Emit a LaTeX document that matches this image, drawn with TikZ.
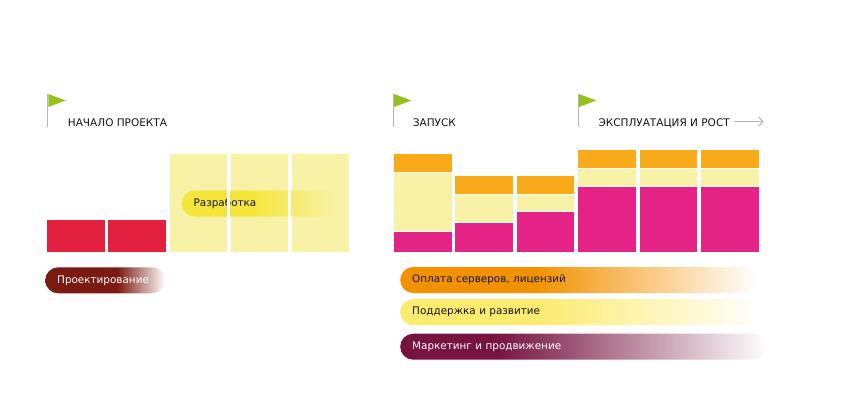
\documentclass[tikz,border=0pt]{standalone}
\usepackage{fontspec}
\setmainfont{DejaVu Sans}
\usetikzlibrary{positioning, arrows.meta}

\definecolor{inkdark}{HTML}{141414}
\definecolor{flaggreen}{HTML}{95C11F}
\definecolor{polegray}{HTML}{B4B4B4}
\definecolor{designred}{HTML}{E3203F}
\definecolor{devyellow}{HTML}{F8F2A6}
\definecolor{serverorange}{HTML}{F8AA1A}
\definecolor{promomagenta}{HTML}{E52286}
\definecolor{pillred}{HTML}{7B1A10}
\definecolor{pilldev}{HTML}{F5E53A}
\definecolor{pillorange}{HTML}{F39200}
\definecolor{pillsupport}{HTML}{FCEB6E}
\definecolor{pillpromo}{HTML}{76133F}

% horizontal fades for the legend pills: name, colour, end of solid part, end colour
\newcommand\pillfade[4]{\pgfdeclarehorizontalshading{#1}{100bp}{color(0bp)=(#2); color(25bp)=(#2); color(#3)=(#2); color(75bp)=(#4); color(100bp)=(#4)}}
\pillfade{fadered}{pillred}{55bp}{white}
\pillfade{fadedev}{pilldev}{47bp}{devyellow}
\pillfade{fadeorange}{pillorange}{44bp}{white}
\pillfade{fadesupport}{pillsupport}{44bp}{white}
\pillfade{fadepromo}{pillpromo}{38bp}{white}

\tikzset{
x=1pt, y=-1pt,
block/.style={inner sep=0pt, outer sep=0pt, minimum width=58.6pt, draw=white, line width=0.6pt}, % one month of work
designblock/.style={block, fill=designred, minimum height=33.4pt},
devblock/.style={block, fill=devyellow, minimum height=98.7pt},
serverblock/.style={block, fill=serverorange, minimum height=18.6pt},
supportblock/.style={block, fill=devyellow},
promoblock/.style={block, fill=promomagenta},
pill/.style={rounded corners=13pt, minimum height=26pt, inner xsep=12pt, inner ysep=0pt, anchor=west, align=left, text=inkdark, font=\fontsize{10.4}{12}\selectfont},
milestone/.style={anchor=base west, inner sep=0pt, text=inkdark, font=\fontsize{10.5}{12}\selectfont},
gap/.style={white, line width=2.6pt},
}

\begin{document}
\begin{tikzpicture}
    \useasboundingbox (0,0) rectangle (851,405);

    % flags
    \foreach \fx in {47.7,393.3,578.3}{
        \draw[polegray, line width=1.4pt] (\fx,94) -- (\fx,126.5);
        \fill[flaggreen] (\fx+0.7,94) -- (\fx+18,100.5) -- (\fx+0.7,107) -- cycle;
    }
    \node[milestone] (start) at (67.7,126.5) {НАЧАЛО ПРОЕКТА};
    \node[milestone] (launch) at (412.7,126.5) {ЗАПУСК};
    \node[milestone] (growth) at (598.3,126.5) {ЭКСПЛУАТАЦИЯ И РОСТ};
    \coordinate (growthfrom) at (733.5,121.6);
    \coordinate (growthto) at (763.5,121.6);
    \draw[polegray, line width=1pt, -{Straight Barb[length=4pt, width=9pt]}] (growthfrom) -- (growthto);

    % design and development
    \node[designblock, anchor=south west] (d1) at (46.6,252.4) {};
    \node[designblock, right=2.5pt of d1] (d2) {};
    \node[devblock, anchor=south west] (v1) at ([xshift=2.5pt]d2.south east) {};
    \node[devblock, right=2.5pt of v1] (v2) {};
    \node[devblock, right=2.5pt of v2] (v3) {};
    \node[pill, shading=fadedev, minimum width=155pt, text width=131pt] (dev) at (181.5,203.5) {Разработка};
    \draw[gap] ([xshift=1.25pt]v1.north east) -- ([xshift=1.25pt]v1.south east);
    \draw[gap] ([xshift=1.25pt]v2.north east) -- ([xshift=1.25pt]v2.south east);

    % after launch
    \foreach \i/\mh/\sh in {1/20.7/59.6, 2/30/28.4, 3/41/17.4, 4/66.4/18, 5/66.4/18, 6/66.4/18}{
        \node[promoblock, minimum height=\mh pt, anchor=south west] (p\i) at ({393.2+(\i-1)*61.45},252.4) {};
        \node[supportblock, minimum height=\sh pt, above=0pt of p\i] (s\i) {};
        \node[serverblock, above=0pt of s\i] (o\i) {};
    }

    % legend
    \node[pill, shading=fadered, text=white, minimum width=120pt, text width=96pt] (design) at (45,280.3) {Проектирование};
    \node[pill, shading=fadeorange, minimum width=357pt, text width=333pt] (servers) at (400,280) {Оплата серверов, лицензий};
    \node[pill, shading=fadesupport, minimum width=360pt, text width=336pt] (support) at (400,312.2) {Поддержка и развитие};
    \node[pill, shading=fadepromo, text=white, minimum width=367pt, text width=343pt] (promo) at (400,346.7) {Маркетинг и продвижение};

\end{tikzpicture}
\end{document}
